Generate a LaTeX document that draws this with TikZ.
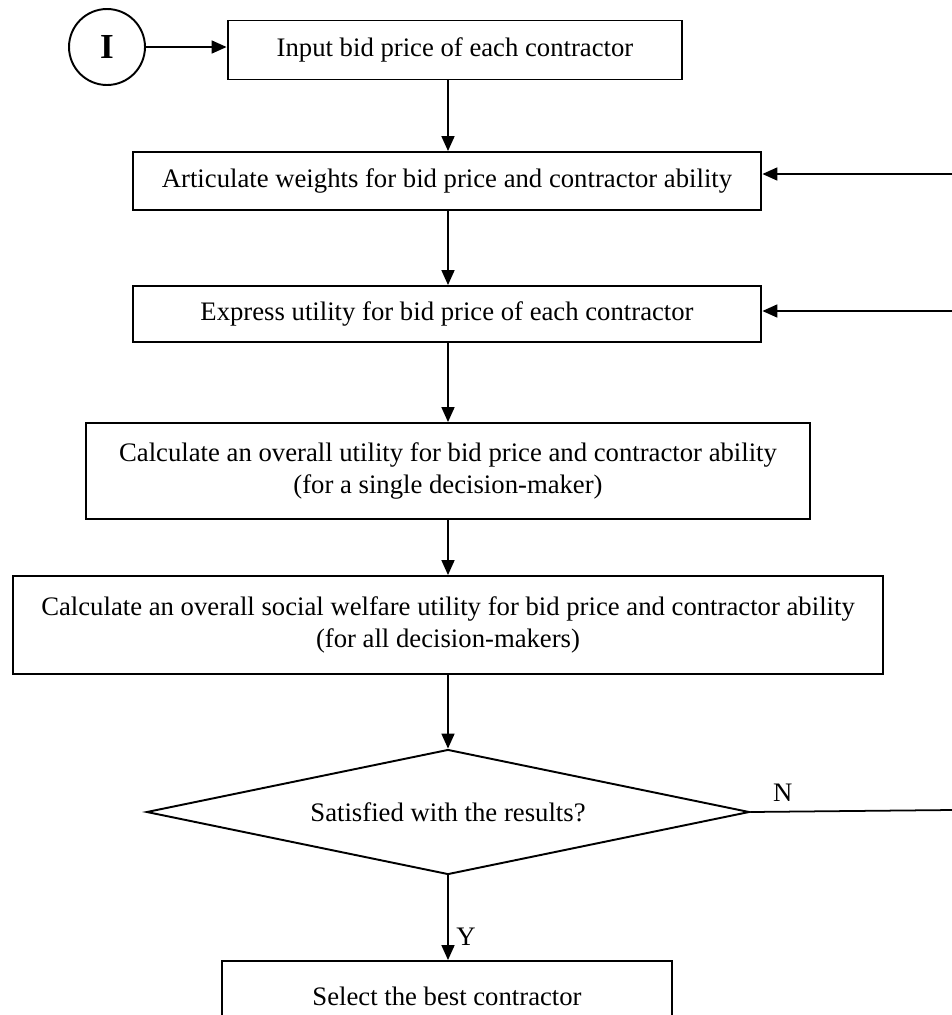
\documentclass[tikz,border=0pt]{standalone}
\usepackage{fontspec}
\setmainfont{Liberation Serif}
\usetikzlibrary{shapes.geometric}
\usetikzlibrary{arrows.meta}
\usetikzlibrary{positioning}

\tikzset{
  procbox/.style={draw, rectangle, line width=1.1pt, align=center, inner sep=0pt},
  decision/.style={draw, diamond, aspect=4.82, line width=1.1pt, inner sep=0pt,
                   minimum width=12.06cm, minimum height=2.5cm},
  flow/.style={line width=1pt, -{Triangle[length=0.3cm,width=0.26cm]}},
  plain/.style={line width=1pt},
}

\begin{document}
\begin{tikzpicture}[x=0.02cm,y=-0.02cm,font=\fontsize{15.2}{18}\selectfont]
        \clip (0,0) rectangle (952,1015);
        % Nodes
        \node[draw, circle, line width=1.1pt, minimum size=1.52cm,
              font=\fontsize{20}{22}\selectfont\bfseries] (start) at (107,47) {I};
        \node[procbox, minimum width=9.1cm, minimum height=1.18cm]   (input)    at (455,50)  {Input bid price of each contractor};
        \node[procbox, minimum width=12.58cm, minimum height=1.16cm] (weights)  at (447,181) {Articulate weights for bid price and contractor ability};
        \node[procbox, minimum width=12.58cm, minimum height=1.12cm] (utility)  at (447,314) {Express utility for bid price of each contractor};
        \node[procbox, minimum width=14.5cm, minimum height=1.92cm]  (overall)  at (448,471) {Calculate an overall utility for bid price and contractor ability\\(for a single decision-maker)};
        \node[procbox, minimum width=17.4cm, minimum height=1.96cm]  (welfare)  at (448,625) {Calculate an overall social welfare utility for bid price and contractor ability\\(for all decision-makers)};
        \node[decision] (satisfied) at (448,812) {Satisfied with the results?};
        \node[procbox, minimum width=9cm, minimum height=1.4cm]      (select)   at (447,996) {Select the best contractor};

        \coordinate (spine) at (448,0);
        \coordinate (backA) at (952,174);
        \coordinate (backB) at (952,311);
        \coordinate (backN) at (952,810);

        \draw[flow] (start.east) -- (start.east -| input.west);
        \draw[flow] (input.south -| spine)   -- (weights.north -| spine);
        \draw[flow] (weights.south -| spine) -- (utility.north -| spine);
        \draw[flow] (utility.south -| spine) -- (overall.north -| spine);
        \draw[flow] (overall.south -| spine) -- (welfare.north -| spine);
        \draw[flow] (welfare.south -| spine) -- (satisfied.north);
        \draw[flow] (satisfied.south) -- node[pos=0.72, right=1pt] {Y} (select.north -| satisfied.south);
        \draw[plain] (satisfied.east) -- node[pos=0.16, above=2pt] {N} (backN);
        \draw[flow] (backA) -- (backA -| weights.east);
        \draw[flow] (backB) -- (backB -| utility.east);
    \end{tikzpicture}
\end{document}
